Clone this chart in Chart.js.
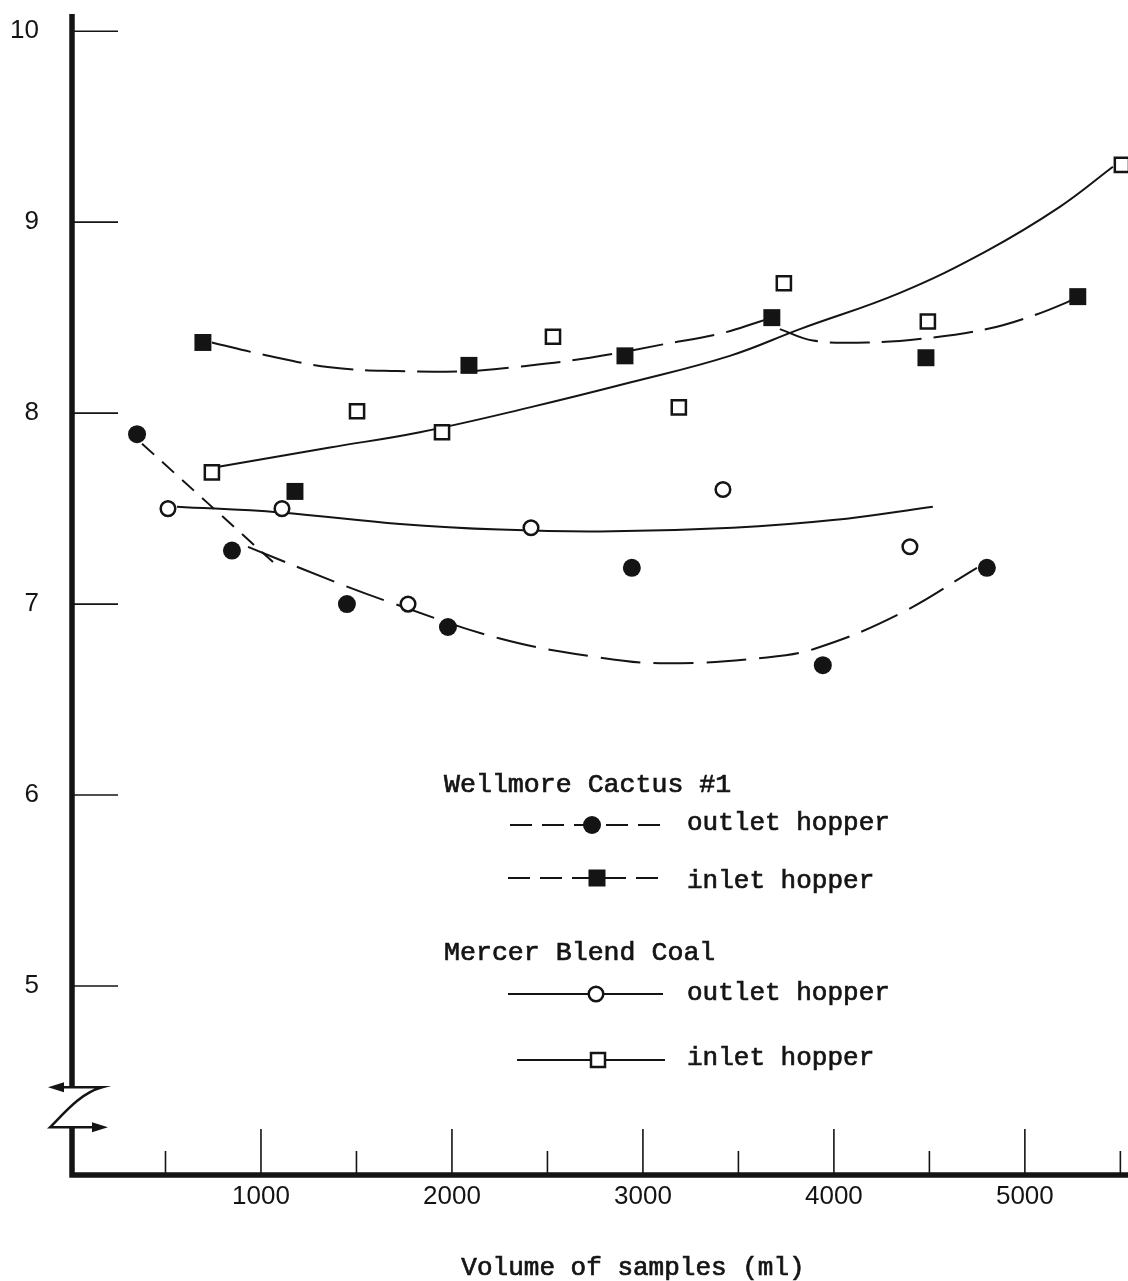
<!DOCTYPE html>
<html>
<head>
<meta charset="utf-8">
<script src="https://cdn.jsdelivr.net/npm/chart.js@4.4.1/dist/chart.umd.min.js"></script>
<style>
  html, body { margin: 0; padding: 0; background: #ffffff; }
  #wrap { width: 1128px; height: 1281px; position: relative; }
  canvas { display: block; }
</style>
</head>
<body>
<div id="wrap"><canvas id="chart" width="1128" height="1281"></canvas></div>
<script>
// Axis ticks
const xTicks = [0, 500, 1000, 1500, 2000, 2500, 3000, 3500, 4000, 4500, 5000, 5500];
const xLabelled = [1000, 2000, 3000, 4000, 5000];
const yTicks = [4, 5, 6, 7, 8, 9, 10];
const yLabelled = [5, 6, 7, 8, 9, 10];

// Wellmore Cactus #1 — outlet hopper (volume ml, value)
const wellOutX = [351, 848, 1450, 1979, 2942, 3942, 4801];
const wellOutY = [7.89, 7.28, 7.00, 6.88, 7.19, 6.68, 7.19];
// Wellmore Cactus #1 — inlet hopper
const wellInX = [696, 1178, 2089, 2906, 3675, 4482, 5277];
const wellInY = [8.37, 7.59, 8.25, 8.30, 8.50, 8.29, 8.61];
// Mercer Blend Coal — outlet hopper
const mercOutX = [513, 1110, 1770, 2414, 3419, 4398];
const mercOutY = [7.50, 7.50, 7.00, 7.40, 7.60, 7.30];
// Mercer Blend Coal — inlet hopper
const mercInX = [743, 1503, 1948, 2529, 3188, 3738, 4492, 5508];
const mercInY = [7.69, 8.01, 7.90, 8.40, 8.03, 8.68, 8.48, 9.30];

// Hand-fitted trend curves
const wellOutFitAX = [377, 1063];
const wellOutFitAY = [7.84, 7.22];
const wellOutFitBX = [932, 1377, 1675, 2251, 2775, 3126, 3649, 3911, 4346, 4749];
const wellOutFitBY = [7.30, 7.12, 7.01, 6.82, 6.72, 6.69, 6.72, 6.77, 6.95, 7.19];
const wellInFitAX = [743, 995, 1361, 1712, 2094, 2319, 2723, 3105, 3419, 3613, 3680];
const wellInFitAY = [8.37, 8.31, 8.24, 8.22, 8.22, 8.24, 8.29, 8.36, 8.42, 8.48, 8.50];
const wellInFitBX = [3717, 3890, 4173, 4466, 4801, 5042, 5220, 5277];
const wellInFitBY = [8.44, 8.38, 8.37, 8.39, 8.44, 8.51, 8.58, 8.61];
const mercOutFitX = [560, 1100, 1728, 2251, 2775, 3471, 3995, 4518];
const mercOutFitY = [7.51, 7.48, 7.42, 7.39, 7.38, 7.40, 7.44, 7.51];
const mercInFitX = [785, 1361, 1832, 2408, 2932, 3455, 3822, 4346, 4801, 5183, 5461];
const mercInFitY = [7.72, 7.82, 7.90, 8.03, 8.16, 8.30, 8.44, 8.63, 8.85, 9.08, 9.29];

const INK = '#141414';
const MONO = '"Liberation Mono", "DejaVu Sans Mono", monospace';
const SANS = '"Liberation Sans", Arial, sans-serif';

const pts = (xs, ys) => xs.map((x, i) => ({ x: x, y: ys[i] }));

function markerSet(xs, ys, style) {
  return Object.assign({
    data: pts(xs, ys),
    showLine: false,
    order: 0,
    pointHoverRadius: 0
  }, style);
}
function fitCurve(xs, ys, dash) {
  return {
    data: pts(xs, ys),
    showLine: true,
    pointRadius: 0,
    pointHoverRadius: 0,
    borderColor: INK,
    borderWidth: 2,
    borderDash: dash,
    tension: 0.4,
    fill: false,
    order: 1
  };
}

const filledCircle = { pointStyle: 'circle', pointRadius: 9, backgroundColor: INK, borderColor: INK, borderWidth: 0 };
const filledSquare = { pointStyle: 'rect', pointRadius: 12, backgroundColor: INK, borderColor: INK, borderWidth: 0 };
const openCircle = { pointStyle: 'circle', pointRadius: 7.3, backgroundColor: '#ffffff', borderColor: INK, borderWidth: 2.5 };
const openSquare = { pointStyle: 'rect', pointRadius: 10, backgroundColor: '#ffffff', borderColor: INK, borderWidth: 2.5 };

// Axis lines, inward tick marks and the broken-axis symbol
const framePlugin = {
  id: 'frame',
  beforeDatasetsDraw(chart) {
    const { ctx, chartArea: a, scales: { x, y } } = chart;
    const axX = a.left + 2;
    const axY = a.bottom - 2;
    ctx.save();
    ctx.strokeStyle = INK;
    ctx.fillStyle = INK;
    ctx.lineCap = 'butt';

    // tick marks
    ctx.lineWidth = 1.6;
    yLabelled.forEach(v => {
      const py = y.getPixelForValue(v);
      ctx.beginPath(); ctx.moveTo(axX, py); ctx.lineTo(axX + 46, py); ctx.stroke();
    });
    xTicks.forEach(v => {
      if (v === 0) return;
      const px = x.getPixelForValue(v);
      const len = xLabelled.includes(v) ? 46 : 24;
      ctx.beginPath(); ctx.moveTo(px, axY); ctx.lineTo(px, axY - len); ctx.stroke();
    });

    // axis lines with a break near the bottom of the y axis
    const breakTop = y.getPixelForValue(4.47);
    const breakBot = y.getPixelForValue(4.26);
    ctx.lineWidth = 5.5;
    ctx.beginPath();
    ctx.moveTo(axX, a.top);
    ctx.lineTo(axX, breakTop);
    ctx.moveTo(axX, breakBot);
    ctx.lineTo(axX, axY + 2.5);
    ctx.moveTo(axX - 2.5, axY);
    ctx.lineTo(a.right, axY);
    ctx.stroke();

    // break symbol
    ctx.lineWidth = 2.5;
    ctx.beginPath();
    ctx.moveTo(axX - 12, breakTop);
    ctx.lineTo(axX + 30, breakTop);
    ctx.bezierCurveTo(axX + 8, breakTop + 6, axX - 8, breakBot - 14, axX - 22, breakBot);
    ctx.lineTo(axX + 26, breakBot);
    ctx.stroke();
    // arrowheads
    ctx.beginPath();
    ctx.moveTo(axX - 24, breakTop);
    ctx.lineTo(axX - 8, breakTop - 5);
    ctx.lineTo(axX - 8, breakTop + 5);
    ctx.closePath();
    ctx.fill();
    ctx.beginPath();
    ctx.moveTo(axX + 36, breakBot);
    ctx.lineTo(axX + 20, breakBot - 5);
    ctx.lineTo(axX + 20, breakBot + 5);
    ctx.closePath();
    ctx.fill();
    ctx.restore();
  }
};

// Series key and x-axis title
const keyPlugin = {
  id: 'key',
  afterDraw(chart) {
    const { ctx } = chart;
    ctx.save();
    ctx.fillStyle = INK;
    ctx.strokeStyle = INK;
    ctx.textBaseline = 'alphabetic';
    ctx.textAlign = 'left';

    // typewriter text: a light outline thickens the strokes
    const type = (txt, x, y, size) => {
      ctx.font = size + 'px ' + MONO;
      ctx.lineWidth = 0.7;
      ctx.setLineDash([]);
      ctx.fillText(txt, x, y);
      ctx.strokeText(txt, x, y);
    };

    const sample = (x0, x1, yy, dash, mx, kind, label, ty) => {
      ctx.lineWidth = 2;
      ctx.setLineDash(dash);
      ctx.beginPath(); ctx.moveTo(x0, yy); ctx.lineTo(x1, yy); ctx.stroke();
      ctx.setLineDash([]);
      if (kind === 'fc') {
        ctx.beginPath(); ctx.arc(mx, yy, 9, 0, Math.PI * 2); ctx.fill();
      } else if (kind === 'fs') {
        ctx.fillRect(mx - 8.5, yy - 8.5, 17, 17);
      } else if (kind === 'oc') {
        ctx.fillStyle = '#fff';
        ctx.beginPath(); ctx.arc(mx, yy, 7.3, 0, Math.PI * 2); ctx.fill();
        ctx.fillStyle = INK;
        ctx.lineWidth = 2.5; ctx.stroke();
      } else {
        ctx.fillStyle = '#fff';
        ctx.fillRect(mx - 7, yy - 7, 14, 14);
        ctx.fillStyle = INK;
        ctx.lineWidth = 2.5; ctx.strokeRect(mx - 7, yy - 7, 14, 14);
      }
      type(label, 687, ty, 26);
    };

    type('Wellmore Cactus #1', 444, 792, 26.6);
    sample(510, 663, 825, [22, 10], 592, 'fc', 'outlet hopper', 830);
    sample(508, 665, 878, [22, 10], 597, 'fs', 'inlet hopper', 888);
    type('Mercer Blend Coal', 444, 960, 26.6);
    sample(508, 663, 994, [], 596, 'oc', 'outlet hopper', 1000);
    sample(517, 665, 1060, [], 598, 'os', 'inlet hopper', 1065);

    ctx.textAlign = 'center';
    type('Volume of samples (ml)', 633, 1275, 26);
    ctx.restore();
  }
};

new Chart(document.getElementById('chart').getContext('2d'), {
  type: 'scatter',
  data: {
    datasets: [
      markerSet(wellOutX, wellOutY, filledCircle),
      markerSet(wellInX, wellInY, filledSquare),
      markerSet(mercOutX, mercOutY, openCircle),
      markerSet(mercInX, mercInY, openSquare),
      fitCurve(wellOutFitAX, wellOutFitAY, [16, 11]),
      fitCurve(wellOutFitBX, wellOutFitBY, [40, 13]),
      fitCurve(wellInFitAX, wellInFitAY, [40, 12]),
      fitCurve(wellInFitBX, wellInFitBY, [40, 12]),
      fitCurve(mercOutFitX, mercOutFitY, []),
      fitCurve(mercInFitX, mercInFitY, [])
    ]
  },
  options: {
    responsive: false,
    animation: false,
    devicePixelRatio: 1,
    events: [],
    layout: { autoPadding: false, padding: { top: 14, left: 0, right: 0, bottom: 0 } },
    plugins: { legend: { display: false }, tooltip: { enabled: false } },
    scales: {
      x: {
        type: 'linear',
        min: 0,
        max: 5540,
        grid: { display: false, drawTicks: false },
        border: { display: false },
        afterBuildTicks: s => { s.ticks = xTicks.map(v => ({ value: v })); },
        afterFit: s => { s.height = 104; s.paddingLeft = 0; s.paddingRight = 0; },
        ticks: {
          autoSkip: false,
          maxRotation: 0,
          minRotation: 0,
          padding: 4,
          color: INK,
          font: { family: SANS, size: 26 },
          callback: v => (xLabelled.includes(v) ? String(v) : '')
        }
      },
      y: {
        type: 'linear',
        min: 4,
        max: 10.09,
        grid: { display: false, drawTicks: false },
        border: { display: false },
        afterBuildTicks: s => { s.ticks = yTicks.map(v => ({ value: v })); },
        afterFit: s => { s.width = 70; s.paddingTop = 0; s.paddingBottom = 0; },
        ticks: {
          autoSkip: false,
          padding: 31,
          color: INK,
          font: { family: SANS, size: 26 },
          callback: v => (yLabelled.includes(v) ? String(v) : '')
        }
      }
    }
  },
  plugins: [framePlugin, keyPlugin]
});
</script>
</body>
</html>
